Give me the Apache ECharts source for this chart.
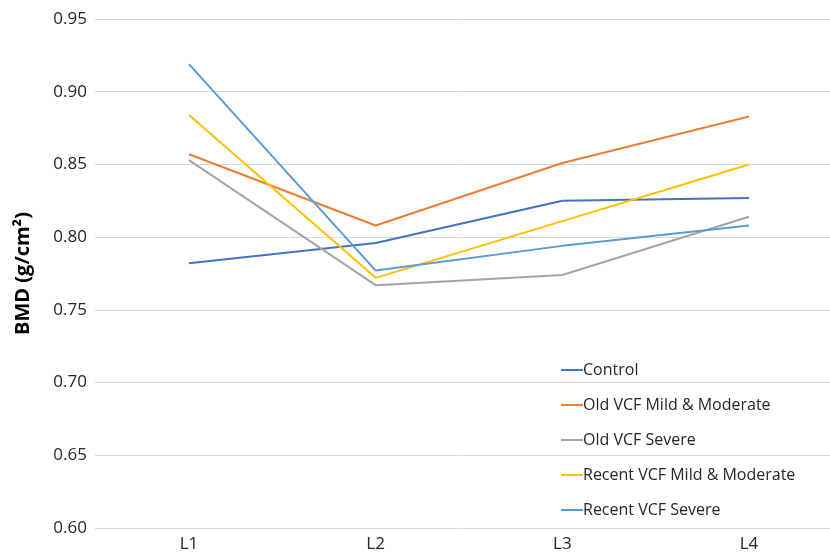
<!DOCTYPE html>
<html><head><meta charset="utf-8">
<script src="https://cdn.jsdelivr.net/npm/echarts@6/dist/echarts.min.js"></script>
<style>html,body{margin:0;padding:0;background:#fff}#c{width:830px;height:553px}</style>
</head><body><div id="c"></div>
<script>
const categories = ['L1','L2','L3','L4'];
const control = [0.782, 0.796, 0.825, 0.827];
const oldMild = [0.857, 0.808, 0.851, 0.883];
const oldSevere = [0.853, 0.767, 0.774, 0.814];
const recentMild = [0.884, 0.772, 0.811, 0.850];
const recentSevere = [0.919, 0.777, 0.794, 0.808];
const yTicks = [0.60, 0.95, 0.05];
const seriesNames = ['Control','Old VCF Mild & Moderate','Old VCF Severe','Recent VCF Mild & Moderate','Recent VCF Severe'];
const colors = ['#4472C4','#ED7D31','#A5A5A5','#FFC000','#5B9BD5'];
const dataSets = [control, oldMild, oldSevere, recentMild, recentSevere];
const font = '"Open Sans", Lato, sans-serif';
const chart = echarts.init(document.getElementById('c'));
chart.setOption({
  animation: false,
  color: colors,
  grid: [
    {left: 189, right: 81, top: 19, bottom: 25, containLabel: false},
    {left: 95, right: 0, top: 19, bottom: 25, containLabel: false}
  ],
  legend: {
    orient: 'vertical', left: 556, top: 357, itemGap: 19,
    itemWidth: 22, itemHeight: 2, icon: 'rect',
    textStyle: {fontFamily: font, fontSize: 16, color: '#262626', padding: [0,0,0,-5]},
    data: seriesNames
  },
  xAxis: [{
    gridIndex: 0, type: 'category', data: categories, boundaryGap: false,
    axisLine: {show: false}, axisTick: {show: false}, splitLine: {show: false},
    axisLabel: {fontFamily: font, fontSize: 17, color: '#262626', margin: 8}
  }, {
    gridIndex: 1, type: 'value', show: false, min: 0, max: 1
  }],
  yAxis: [{
    gridIndex: 0, type: 'value', min: yTicks[0], max: yTicks[1], interval: yTicks[2], show: false
  }, {
    gridIndex: 1, type: 'value', min: yTicks[0], max: yTicks[1], interval: yTicks[2],
    name: 'BMD (g/cm²)', nameLocation: 'middle', nameGap: 62,
    nameTextStyle: {fontFamily: font, fontSize: 20, fontWeight: 'bold', color: '#000'},
    axisLabel: {fontFamily: font, fontSize: 17, color: '#262626', margin: 8, formatter: v => v.toFixed(2)},
    splitLine: {lineStyle: {color: '#d9d9d9', width: 1}},
    axisLine: {show: false}, axisTick: {show: false}
  }],
  series: dataSets.map((d, i) => ({
    name: seriesNames[i], type: 'line', data: d, symbol: 'none',
    xAxisIndex: 0, yAxisIndex: 0, z: 3,
    lineStyle: {width: 2, color: colors[i]}
  }))
});
</script></body></html>
